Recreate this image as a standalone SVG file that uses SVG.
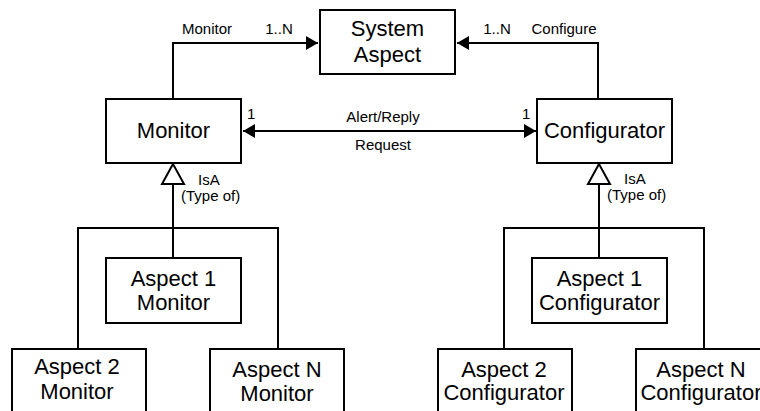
<svg xmlns="http://www.w3.org/2000/svg" width="760" height="411" viewBox="0 0 760 411">
<style>
.box{fill:#fff;stroke:#000;stroke-width:2}
.ln{fill:none;stroke:#000;stroke-width:2}
.big{font-family:"Liberation Sans",Arial,sans-serif;font-size:22px;text-anchor:middle;fill:#000}
.sm{font-family:"Liberation Sans",Arial,sans-serif;font-size:15px;fill:#000}
.mid{text-anchor:middle}
.tri{fill:#fff;stroke:#000;stroke-width:2}
</style>
<defs>
<marker id="ah" viewBox="0 0 12 14" refX="12" refY="7" markerWidth="12" markerHeight="14" markerUnits="userSpaceOnUse" orient="auto-start-reverse">
<path d="M0,0 L12,7 L0,14 Z" fill="#000"/>
</marker>
</defs>
<rect width="760" height="411" fill="#fff"/>
<g id="connectors">
<polyline class="ln" points="173,99 173,43 318,43" marker-end="url(#ah)"/>
<polyline class="ln" points="598,99 598,43 457,43" marker-end="url(#ah)"/>
<line class="ln" x1="243" y1="131" x2="536" y2="131" marker-start="url(#ah)" marker-end="url(#ah)"/>
<polyline class="ln" points="173,184 173,258"/>
<polyline class="ln" points="78,349 78,228 278,228 278,349"/>
<polygon class="tri" points="173,164 162,184 184,184"/>
<polyline class="ln" points="599,184 599,258"/>
<polyline class="ln" points="504,349 504,228 704,228 704,349"/>
<polygon class="tri" points="599,164 588,184 610,184"/>
<text class="sm mid" x="207" y="34">Monitor</text>
<text class="sm mid" x="279" y="34">1..N</text>
<text class="sm mid" x="497" y="34">1..N</text>
<text class="sm mid" x="564" y="34">Configure</text>
<text class="sm" x="247" y="119">1</text>
<text class="sm" x="522" y="119">1</text>
<text class="sm mid" x="383" y="122">Alert/Reply</text>
<text class="sm mid" x="383" y="150">Request</text>
<text class="sm" x="198" y="185">IsA</text>
<text class="sm" x="181" y="201">(Type of)</text>
<text class="sm" x="624" y="184">IsA</text>
<text class="sm" x="607" y="200">(Type of)</text>
</g>
<g id="system-aspect">
<rect class="box" x="320" y="10" width="135" height="64"/>
<text class="big" x="387.5" y="36">System</text>
<text class="big" x="387.5" y="62">Aspect</text>
</g>
<g id="monitor">
<rect class="box" x="106" y="99" width="135" height="64"/>
<text class="big" x="173.5" y="138">Monitor</text>
</g>
<g id="configurator">
<rect class="box" x="537" y="99" width="135" height="64"/>
<text class="big" x="604.5" y="138">Configurator</text>
</g>
<g id="aspect1-monitor">
<rect class="box" x="106" y="258" width="135" height="65"/>
<text class="big" x="173.5" y="286">Aspect 1</text>
<text class="big" x="173.5" y="310">Monitor</text>
</g>
<g id="aspect2-monitor">
<rect class="box" x="12" y="349" width="134" height="80"/>
<text class="big" x="77" y="374">Aspect 2</text>
<text class="big" x="77" y="399">Monitor</text>
</g>
<g id="aspectN-monitor">
<rect class="box" x="210" y="349" width="134" height="80"/>
<text class="big" x="277" y="377">Aspect N</text>
<text class="big" x="277" y="401">Monitor</text>
</g>
<g id="aspect1-configurator">
<rect class="box" x="532" y="258" width="135" height="65"/>
<text class="big" x="599.5" y="286">Aspect 1</text>
<text class="big" x="599.5" y="310">Configurator</text>
</g>
<g id="aspect2-configurator">
<rect class="box" x="438" y="349" width="134" height="80"/>
<text class="big" x="504" y="377">Aspect 2</text>
<text class="big" x="504" y="400">Configurator</text>
</g>
<g id="aspectN-configurator">
<rect class="box" x="636" y="349" width="135" height="80"/>
<text class="big" x="701" y="377">Aspect N</text>
<text class="big" x="701" y="400">Configurator</text>
</g>
</svg>
